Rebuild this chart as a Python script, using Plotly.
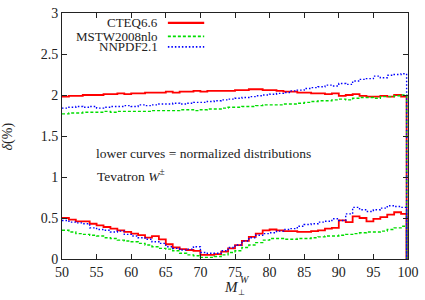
import plotly.graph_objects as go

# bin left edges (GeV)
mass = list(range(50, 100))
end_edge = 99.8

cteq_up = [1.98,1.99,1.99,2.00,2.00,2.00,2.01,2.01,2.02,2.01,2.02,2.02,2.03,2.03,2.03,2.04,2.03,2.04,2.04,2.05,
           2.04,2.05,2.05,2.05,2.05,2.06,2.06,2.07,2.07,2.06,2.06,2.05,2.04,2.04,2.03,2.03,2.02,2.02,2.01,2.02,
           1.99,2.00,2.01,1.99,1.98,1.98,1.99,1.98,2.00,1.98]
mstw_up = [1.77,1.78,1.78,1.79,1.79,1.79,1.80,1.79,1.80,1.80,1.80,1.80,1.80,1.81,1.81,1.81,1.81,1.82,1.82,1.81,
           1.82,1.83,1.83,1.84,1.85,1.85,1.86,1.86,1.87,1.88,1.88,1.88,1.89,1.89,1.90,1.91,1.92,1.93,1.93,1.94,
           1.95,1.94,1.96,1.97,1.97,1.96,1.98,1.98,1.99,2.00]
nnpdf_up = [1.84,1.85,1.86,1.85,1.86,1.84,1.85,1.86,1.86,1.87,1.86,1.88,1.87,1.88,1.89,1.89,1.90,1.89,1.90,1.91,
            1.91,1.92,1.93,1.94,1.95,1.96,1.97,1.98,1.99,2.00,2.01,2.02,2.03,2.05,2.06,2.08,2.09,2.10,2.12,2.11,
            2.14,2.13,2.17,2.19,2.20,2.23,2.21,2.24,2.25,2.26]
cteq_lo = [0.50,0.48,0.46,0.46,0.43,0.41,0.39,0.37,0.35,0.33,0.31,0.29,0.26,0.28,0.24,0.18,0.14,0.12,0.11,0.10,
           0.05,0.05,0.06,0.09,0.13,0.17,0.22,0.27,0.31,0.35,0.36,0.35,0.34,0.34,0.33,0.33,0.34,0.35,0.37,0.38,
           0.47,0.45,0.52,0.50,0.46,0.49,0.51,0.54,0.57,0.55]
mstw_lo = [0.35,0.33,0.31,0.30,0.29,0.28,0.26,0.25,0.23,0.22,0.21,0.19,0.17,0.15,0.13,0.12,0.10,0.07,0.05,0.04,
           0.02,0.02,0.03,0.05,0.08,0.10,0.14,0.17,0.20,0.23,0.25,0.25,0.24,0.24,0.25,0.25,0.26,0.27,0.28,0.28,
           0.29,0.30,0.31,0.32,0.33,0.33,0.34,0.36,0.38,0.40]
nnpdf_lo = [0.47,0.45,0.44,0.43,0.38,0.36,0.35,0.33,0.34,0.30,0.28,0.26,0.24,0.21,0.19,0.15,0.13,0.11,0.12,0.15,
            0.08,0.07,0.07,0.10,0.14,0.17,0.22,0.26,0.29,0.31,0.32,0.34,0.36,0.37,0.40,0.42,0.43,0.45,0.46,0.49,
            0.47,0.55,0.63,0.60,0.58,0.60,0.62,0.65,0.64,0.63]

series = [
    ("CTEQ6.6", cteq_up, cteq_lo, "#ff0000", "solid", 1.8),
    ("MSTW2008nlo", mstw_up, mstw_lo, "#00dd00", "3px,2px", 1.4),
    ("NNPDF2.1", nnpdf_up, nnpdf_lo, "#0000ff", "1.5px,2px", 1.4),
]

FONT = "Liberation Serif"
TXT = "#222"
fig = go.Figure()
for name, up, lo, col, dash, w in series:
    for vals in (up, lo):
        fig.add_trace(go.Scatter(
            x=mass + [end_edge, end_edge], y=vals + [vals[-1], 0],
            mode="lines", line=dict(color=col, dash=dash, width=w, shape="hv"),
            showlegend=False, hoverinfo="skip"))

# manual legend (text left, sample right), gnuplot style
leg_y = [0.96, 0.905, 0.862]
for (name, up, lo, col, dash, w), yy in zip(series, leg_y):
    fig.add_annotation(x=0.28, y=yy, xref="paper", yref="paper", text=name,
                       showarrow=False, xanchor="right", yanchor="middle", align="right",
                       borderpad=0, font=dict(family=FONT, size=13, color=TXT))
    fig.add_shape(type="line", xref="paper", yref="paper", x0=0.306, x1=0.411, y0=yy, y1=yy,
                  line=dict(color=col, dash=dash, width=w + 0.3))

fig.add_annotation(x=0.41, y=0.43, xref="paper", yref="paper",
                   text="lower curves = normalized distributions", showarrow=False,
                   xanchor="center", yanchor="middle", borderpad=0,
                   font=dict(family=FONT, size=13.5, color=TXT))
fig.add_annotation(x=0.199, y=0.34, xref="paper", yref="paper",
                   text="Tevatron <i>W</i><sup>±</sup>", showarrow=False,
                   xanchor="center", yanchor="middle", borderpad=0,
                   font=dict(family=FONT, size=13.5, color=TXT))

# y title
fig.add_annotation(x=-0.157, y=0.497, xref="paper", yref="paper", text="<i>δ</i>(%)",
                   showarrow=False, textangle=-90, xanchor="center", yanchor="middle",
                   font=dict(family=FONT, size=14, color=TXT))
# x title  M_perp^W
fig.add_annotation(x=0.491, y=-0.114, xref="paper", yref="paper", text="<i>M</i>",
                   showarrow=False, xanchor="center", yanchor="middle",
                   font=dict(family=FONT, size=15, color=TXT))
fig.add_annotation(x=0.529, y=-0.083, xref="paper", yref="paper", text="<i>W</i>",
                   showarrow=False, xanchor="center", yanchor="middle",
                   font=dict(family=FONT, size=10, color=TXT))
fig.add_annotation(x=0.52, y=-0.135, xref="paper", yref="paper", text="⊥",
                   showarrow=False, xanchor="center", yanchor="middle",
                   font=dict(family=FONT, size=8, color=TXT))

axis_common = dict(showline=True, linecolor=TXT, linewidth=1, mirror="allticks",
                   ticks="inside", ticklen=5, tickcolor=TXT, showgrid=False, zeroline=False,
                   ticklabeloverflow="allow",
                   tickfont=dict(family=FONT, size=14, color=TXT))
fig.update_xaxes(range=[50, 100], tickvals=list(range(50, 101, 5)), **axis_common)
fig.update_yaxes(range=[0, 3], tickvals=[0, 0.5, 1, 1.5, 2, 2.5, 3],
                 ticktext=["0", "0.5", "1", "1.5", "2", "2.5", "3"], **axis_common)
fig.update_layout(width=425, height=300, margin=dict(l=62, r=13, t=6, b=41),
                  plot_bgcolor="white", paper_bgcolor="white", showlegend=False)
fig.write_html(
    "out.html", config={"displayModeBar": False},
    post_script=("document.body.style.margin='0px';"
                 "var gd=document.getElementById('{plot_id}');"
                 "Plotly.newPlot(gd, gd.data, gd.layout, {displayModeBar:false});"))
